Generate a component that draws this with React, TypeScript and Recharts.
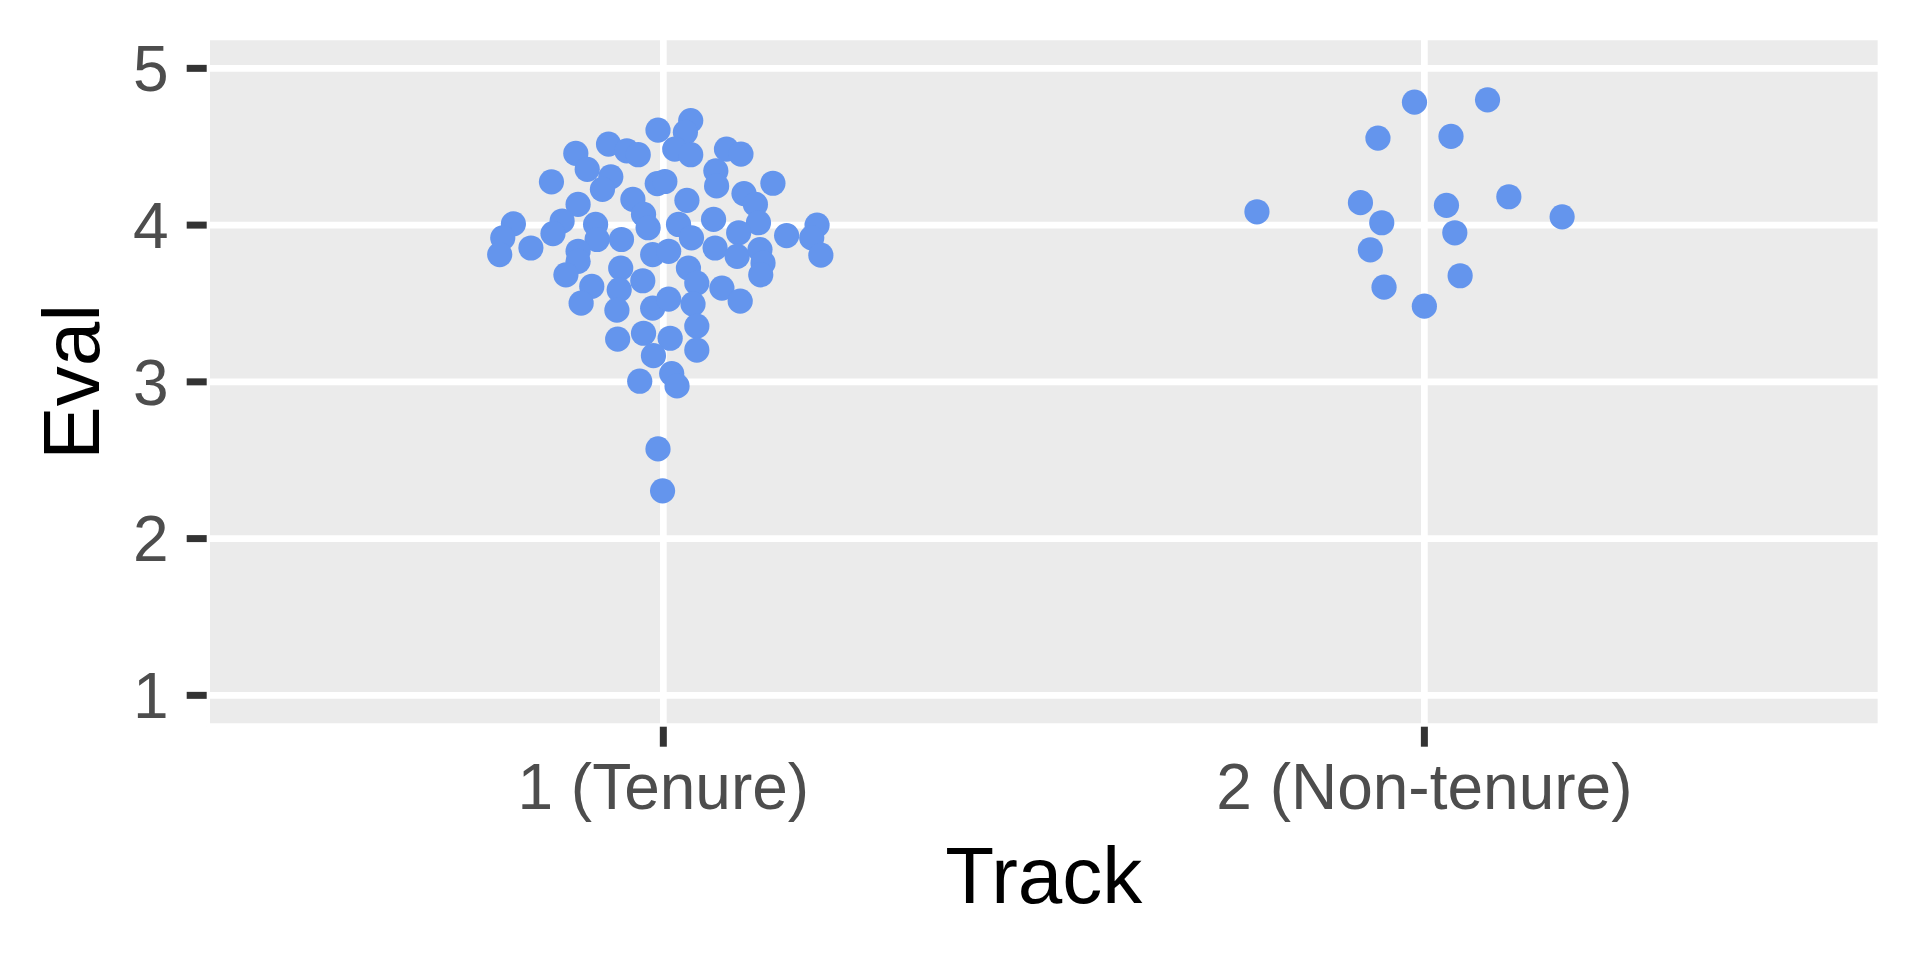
import React from 'react';
import { ScatterChart, Scatter, XAxis, YAxis, CartesianGrid, Label } from 'recharts';

const trackLabels = ['1 (Tenure)', '2 (Non-tenure)'];
const trackTicks = [1, 2];
const evalTicks = [1, 2, 3, 4, 5];

const tenureX = [
  0.993, 0.928, 0.952, 0.967, 0.885, 0.900, 0.931, 0.920, 0.853, 0.992,
  1.002, 0.960, 0.888, 0.974, 0.980, 1.020, 0.803, 0.789, 0.785, 0.826,
  0.867, 0.855, 0.911, 0.913, 0.945, 0.888, 0.888, 0.872, 0.986, 1.007,
  0.944, 0.973, 0.906, 0.942, 0.892, 0.939, 0.986, 1.007, 1.036, 1.029,
  1.015, 1.036, 1.083, 1.102, 1.069, 1.070, 1.144, 1.106, 1.121, 1.031,
  1.066, 1.125, 1.099, 1.037, 1.068, 1.097, 1.127, 1.131, 1.128, 1.162,
  1.202, 1.195, 1.207, 1.033, 1.044, 1.077, 1.101, 1.039, 0.940, 0.974,
  1.009, 0.987, 1.011, 1.018, 0.969, 0.993, 0.999, 1.044, 1.044,
];
const tenureY = [
  4.606, 4.517, 4.474, 4.449, 4.457, 4.356, 4.308, 4.228, 4.276, 4.265,
  4.278, 4.164, 4.132, 4.068, 3.983, 4.004, 4.008, 3.919, 3.812, 3.854,
  4.026, 3.946, 4.004, 3.908, 3.908, 3.833, 3.769, 3.683, 3.812, 3.833,
  3.726, 3.645, 3.609, 3.587, 3.502, 3.457, 3.470, 3.528, 4.667, 4.592,
  4.485, 4.449, 4.485, 4.453, 4.346, 4.250, 4.267, 4.201, 4.132, 4.158,
  4.036, 4.015, 3.951, 3.919, 3.854, 3.801, 3.844, 3.758, 3.683, 3.933,
  4.000, 3.919, 3.808, 3.726, 3.630, 3.598, 3.515, 3.496, 3.273, 3.310,
  3.278, 3.167, 3.053, 2.974, 3.004, 2.572, 2.305, 3.356, 3.203,
];

const nonTenureX = [
  1.987, 2.083, 1.939, 2.035, 1.780, 1.916, 1.944, 2.029, 2.111, 2.181,
  2.040, 1.929, 2.047, 1.947, 2.000,
];
const nonTenureY = [
  4.784, 4.799, 4.555, 4.566, 4.085, 4.143, 4.015, 4.126, 4.181, 4.053,
  3.951, 3.842, 3.677, 3.604, 3.483,
];

const toPoints = (xs: number[], ys: number[]) =>
  xs.map((x, i) => ({ track: x, evalScore: ys[i] }));

const tenureData = toPoints(tenureX, tenureY);
const nonTenureData = toPoints(nonTenureX, nonTenureY);

const FONT = '"Liberation Sans", Arial, Helvetica, sans-serif';
const POINT_COLOR = '#6495ED';

const Dot = (props: any) => {
  const { cx, cy } = props;
  if (cx == null || cy == null) return null;
  return <circle cx={cx} cy={cy} r={12.6} fill={POINT_COLOR} />;
};

const XTitle = (props: any) => {
  const vb = props.viewBox || {};
  const cx = vb.x + vb.width / 2;
  return (
    <text x={cx} y={vb.y + 176.6} textAnchor="middle" fontSize={80} fontFamily={FONT} fill="#000000">
      Track
    </text>
  );
};

const YTitle = (props: any) => {
  const vb = props.viewBox || {};
  const bx = 99.3;
  const cy = vb.y + vb.height / 2;
  return (
    <text
      x={bx}
      y={cy}
      textAnchor="middle"
      fontSize={80}
      fontFamily={FONT}
      fill="#000000"
      transform={`rotate(-90, ${bx}, ${cy})`}
    >
      Eval
    </text>
  );
};

export default function App() {
  return (
    <div style={{ position: 'absolute', left: 0, top: 0, width: 1920, height: 960, background: '#FFFFFF' }}>
      <ScatterChart
        width={1920}
        height={960}
        margin={{ top: 37, right: 39, bottom: 0, left: 0 }}
      >
        <CartesianGrid
          fill="#EBEBEB"
          fillOpacity={1}
          stroke="#FFFFFF"
          strokeWidth={6.7}
        />
        <XAxis
          type="number"
          dataKey="track"
          domain={[0.4, 2.6]}
          ticks={trackTicks}
          tickFormatter={(v: number) => trackLabels[Math.round(v) - 1] ?? ''}
          height={233.3}
          axisLine={false}
          tickSize={20}
          tickMargin={17}
          tickLine={{ stroke: '#333333', strokeWidth: 7 }}
          tick={{ fill: '#4D4D4D', fontSize: 64, fontFamily: FONT }}
          allowDataOverflow
          interval={0}
        >
          <Label content={<XTitle />} />
        </XAxis>
        <YAxis
          type="number"
          dataKey="evalScore"
          domain={[0.8, 5.2]}
          ticks={evalTicks}
          width={206.7}
          axisLine={false}
          tickSize={20}
          tickMargin={18}
          tickLine={{ stroke: '#333333', strokeWidth: 7 }}
          tick={{ fill: '#4D4D4D', fontSize: 64, fontFamily: FONT }}
          allowDataOverflow
          interval={0}
        >
          <Label content={<YTitle />} />
        </YAxis>
        <Scatter name="Tenure" data={tenureData} fill={POINT_COLOR} shape={<Dot />} isAnimationActive={false} />
        <Scatter name="Non-tenure" data={nonTenureData} fill={POINT_COLOR} shape={<Dot />} isAnimationActive={false} />
      </ScatterChart>
    </div>
  );
}
